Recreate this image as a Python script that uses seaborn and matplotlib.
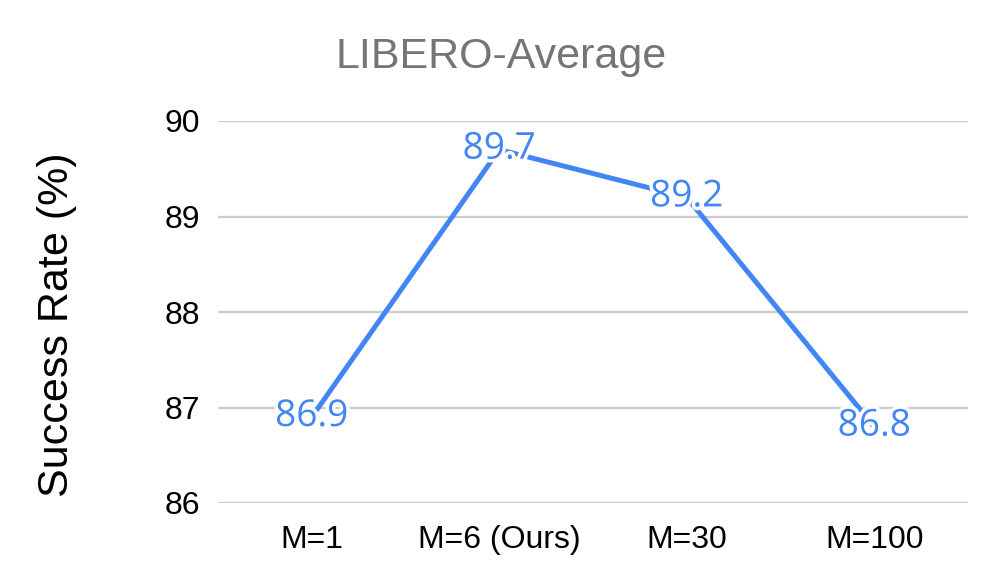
import matplotlib
matplotlib.use("Agg")
import matplotlib.pyplot as plt
import matplotlib.patheffects as pe
import seaborn as sns
import pandas as pd

settings = ["M=1", "M=6 (Ours)", "M=30", "M=100"]
success = [86.9, 89.7, 89.2, 86.8]
yticks = [86, 87, 88, 89, 90]
title = "LIBERO-Average"
ylabel = "Success Rate (%)"

df = pd.DataFrame({"setting": settings, "rate": success})

sns.set_theme(style="white")
plt.rcParams["font.family"] = ["Liberation Sans", "DejaVu Sans"]

DPI = 72
fig = plt.figure(figsize=(996 / DPI, 587 / DPI), dpi=DPI)
ax = fig.add_axes([218 / 996, 1 - 503 / 587, (968 - 218) / 996, (503 - 121) / 587])

blue = "#4285F4"
sns.lineplot(data=df, x="setting", y="rate", sort=False, color=blue, linewidth=5, ax=ax)

for i, v in enumerate(success):
    ax.text(i, v, f"{v}", color=blue, fontsize=37, family=["Open Sans", "DejaVu Sans"],
            ha="center", va="center", zorder=5,
            path_effects=[pe.withStroke(linewidth=7, foreground="white")])

ax.set_ylim(86, 90)
ax.set_xlim(-0.5, len(settings) - 0.5)
ax.set_yticks(yticks)
ax.set_yticklabels([str(t) for t in yticks])
ax.grid(axis="y", color="#cccccc", linewidth=2.3)
ax.grid(axis="x", visible=False)
for s in ax.spines.values():
    s.set_visible(False)
ax.tick_params(axis="both", length=0, labelsize=32, colors="#000000")
ax.tick_params(axis="x", pad=22)
ax.tick_params(axis="y", pad=18)
ax.set_xlabel("")
ax.set_ylabel(ylabel, fontsize=43, color="#000000")
ax.yaxis.set_label_coords((57 - 218) / 750, (503 - 325) / 382)
ax.yaxis.label.set_va("center")
fig.text(0.503, 1 - 57 / 587, title, fontsize=43, color="#757575", ha="center", va="center")

fig.savefig("out.png", dpi=DPI, facecolor="white")
